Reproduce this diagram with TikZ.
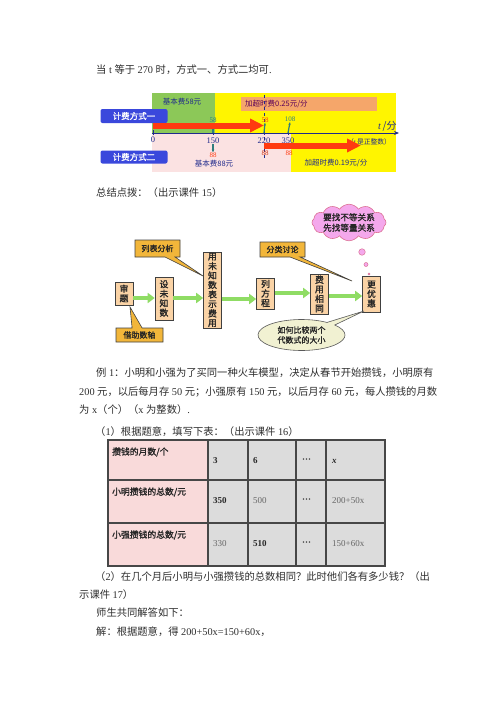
\documentclass[tikz,border=0pt]{standalone}
\usepackage{fontspec}
\setmainfont{Liberation Serif}
\newfontfamily\cjk{Noto Sans CJK SC}
\newfontfamily\cjkb[FakeBold=1.5]{Noto Sans CJK SC}
\usetikzlibrary{shapes.callouts,shapes.symbols,arrows.meta}
\newcommand\zh[1]{{\cjk #1}}
\newcommand\bodyfs{\fontsize{10.3pt}{12pt}\selectfont}
\definecolor{txt}{HTML}{2E2E2E}
\definecolor{ybg}{HTML}{FFF500}
\definecolor{gbg}{HTML}{8CC858}
\definecolor{pbg}{HTML}{FBE2E2}
\definecolor{obg}{HTML}{F5A66A}
\definecolor{lblue}{HTML}{3A48DC}
\definecolor{navy}{HTML}{1F2A8C}
\definecolor{redarr}{HTML}{FF3A10}
\definecolor{teal2}{HTML}{2E7D7D}
\definecolor{boxfill}{HTML}{FAD3A6}
\definecolor{callfill}{HTML}{F2B63A}
\definecolor{cloudfill}{HTML}{F4A8EC}
\definecolor{ellfill}{HTML}{F1F1D2}
\definecolor{garr}{HTML}{8FDC64}
\definecolor{tpink}{HTML}{F9DADA}
\definecolor{tgray}{HTML}{DCDCDC}
\tikzset{
  body/.style={anchor=west, inner sep=0pt, text=txt, font=\bodyfs},
  tl/.style={inner sep=0pt, font=\fontsize{7.5pt}{9pt}\selectfont},
  fbox/.style={draw=black!75, fill=boxfill, line width=0.6pt, inner sep=1pt, align=center,
    text=black!85, font=\cjkb\fontsize{8.8pt}{9.5pt}\selectfont, minimum width=18pt},
  callbox/.style={rectangle callout, draw=black!75, fill=callfill, line width=0.6pt,
    font=\cjkb\fontsize{8pt}{9.5pt}\selectfont, text=black!85, inner sep=1pt, callout pointer width=10pt},
  garrow/.style={draw=garr, line width=4pt, -{Triangle[length=7pt,width=10pt]}},
  redarrow/.style={draw=redarr, line width=6pt, -{Triangle[length=14pt,width=13pt]}},
  smarr/.style={draw=teal2, line width=1.2pt, -{Stealth[length=3pt]}},
  tcell/.style={anchor=west, inner sep=0pt, font=\fontsize{9pt}{11pt}\selectfont},
}
\begin{document}
\begin{tikzpicture}[x=1pt,y=-1pt]
\useasboundingbox[fill=white] (0,0) rectangle (500,707);

% ---------- line 1
\node[body] (l1) at (96,70) {\zh{当} t \zh{等于} 270 \zh{时，方式一、方式二均可}.};

% ---------- timeline figure
\fill[ybg] (152,93) rectangle (396,172);
\fill[gbg] (152,93) rectangle (215,133);
\fill[pbg] (152,134) rectangle (291,172);
\fill[obg] (241,97) rectangle (377,111);
\node[tl, text=navy] (b58) at (182,102) {\cjk 基本费58元};
\node[tl, text=violet!70!black, anchor=west] (o25) at (245,104.5) {\cjk 加超时费0.25元/分};
\node[tl, text=navy] (b88) at (214,163.5) {\cjk 基本费88元};
\node[tl, text=navy] (o19) at (336,163.5) {\cjk 加超时费0.19元/分};
\node[fill=lblue, rounded corners=2pt, minimum width=67pt, minimum height=14pt, inner sep=0pt,
  text=white, font=\cjkb\fontsize{8.5pt}{10pt}\selectfont] (m1) at (134,116) {计费方式一};
\node[fill=lblue, rounded corners=2pt, minimum width=67pt, minimum height=13pt, inner sep=0pt,
  text=white, font=\cjkb\fontsize{8.5pt}{10pt}\selectfont] (m2) at (134,157) {计费方式二};

\draw[navy, dashed, line width=1pt] (264,95) -- (264,158);
\draw[navy, line width=1pt, -{Stealth[length=5pt,width=4pt]}] (152,133) -- (399,133);
\foreach \xx in {153,213,264,288} \draw[navy, line width=1pt] (\xx,130) -- (\xx,135);
\node[tl, text=navy, font=\fontsize{8.5pt}{10pt}\selectfont] (t0) at (153,139.5) {0};
\node[tl, text=navy, font=\fontsize{8.5pt}{10pt}\selectfont] (t150) at (213,141) {150};
\node[tl, text=navy, font=\fontsize{8.5pt}{10pt}\selectfont] (t220) at (264,141) {220};
\node[tl, text=navy, font=\fontsize{8.5pt}{10pt}\selectfont] (t350) at (288,141) {350};
\node[tl, text=teal2, font=\fontsize{7pt}{8pt}\selectfont] (u58) at (213,120) {58};
\node[tl, text=redarr, font=\fontsize{7pt}{8pt}\selectfont] (v58) at (265,120) {58};
\node[tl, text=teal2, font=\fontsize{7pt}{8pt}\selectfont] (u108) at (290,119.5) {108};
\node[tl, text=redarr, font=\fontsize{7pt}{8pt}\selectfont] (d88a) at (213,155) {88};
\node[tl, text=redarr!80!black, font=\fontsize{7pt}{8pt}\selectfont] (d88b) at (265,153) {88};
\node[tl, text=redarr, font=\fontsize{7pt}{8pt}\selectfont] (d88c) at (289,153) {88};
\draw[teal2, line width=1.2pt] (213,124) -- (213,133);
\draw[smarr] (t150.south) -- (d88a.north);
\draw[smarr] (288,133) -- (u108.south);
\draw[smarr] (264,133) -- (v58.south);
\node[tl, text=navy, anchor=west] (tlab) at (378,126.5) {\fontsize{10pt}{11pt}\selectfont\itshape t\,\upshape\zh{/分}};
\node[tl, text=navy, anchor=west, font=\fontsize{6.8pt}{8pt}\selectfont] (tint) at (347,141.5) {\zh{（}t\,\zh{是正整数）}};
\draw[redarrow] (153,125.5) -- (264,125.5);
\draw[redarrow] (264,145.5) -- (361,145.5);

% ---------- line 2
\node[body] (l2) at (96,193) {\zh{总结点拨：（出示课件} 15\zh{）}};

% ---------- flowchart
\node[fbox, minimum height=23pt] (shen) at (124,293.5) {审\\题};
\node[fbox, minimum height=43pt] (she) at (164,298.5) {设\\未\\知\\数};
\node[fbox, minimum height=76pt] (yong) at (212.5,290) {用\\未\\知\\数\\表\\示\\费\\用};
\node[fbox, minimum height=31pt] (lie) at (265.5,293.5) {列\\方\\程};
\node[fbox, minimum height=40pt] (fei) at (319.5,294) {费\\用\\相\\同};
\node[fbox, minimum height=36pt] (geng) at (371.5,294) {更\\优\\惠};

\draw[garrow] (shen.east|-0,298) -- (she.west|-0,298);
\draw[garrow] (she.east|-0,298) -- (yong.west|-0,298);
\draw[garrow] (yong.east|-0,299) -- (lie.west|-0,299);
\draw[garrow] (lie.east|-0,293) -- (fei.west|-0,293);
\draw[garrow] (fei.east|-0,296) -- (geng.west|-0,296);

\node[callbox, minimum width=45pt, minimum height=17pt, callout absolute pointer={(203,276)}] (lb) at (157.5,248.5) {列表分析};
\node[callbox, minimum width=45pt, minimum height=15pt, callout absolute pointer={(352,281)}] (fl) at (282.5,249.5) {分类讨论};
\node[callbox, minimum width=47pt, minimum height=14pt, callout absolute pointer={(130,307)}] (jz) at (139.5,335) {借助数轴};
\node[ellipse callout, draw=black!65, fill=ellfill, line width=0.6pt, minimum width=87pt, minimum height=31pt,
  inner sep=0pt, align=center, font=\cjkb\fontsize{8pt}{10pt}\selectfont, text=black!85,
  callout absolute pointer={(364,311)}, callout pointer arc=14] (ell) at (301.5,335) {如何比较两个\\代数式的大小};
\node[cloud, cloud puffs=12, cloud puff arc=110, aspect=2.5, draw=purple!55, fill=cloudfill, line width=0.6pt,
  inner sep=-1pt, minimum width=74pt, minimum height=31pt, align=center,
  font=\cjkb\fontsize{8.6pt}{10.5pt}\selectfont, text=black!85] (cl) at (349,222.5) {要找不等关系\\先找等量关系};
\node[circle, draw=purple!55, fill=cloudfill, line width=0.5pt, minimum size=6.5pt, inner sep=0pt] (c1) at (362,252) {};
\node[circle, draw=purple!55, fill=cloudfill, line width=0.5pt, minimum size=4pt, inner sep=0pt] (c2) at (366,264.5) {};
\node[circle, draw=purple!55, fill=cloudfill, line width=0.4pt, minimum size=2pt, inner sep=0pt] (c3) at (369,274) {};

% ---------- example text
\node[body] (l3) at (96,373) {\zh{例} 1\zh{：小明和小强为了买同一种火车模型，决定从春节开始攒钱，小明原有}};
\node[body] (l4) at (79,392) {200 \zh{元，以后每月存} 50 \zh{元；小强原有} 150 \zh{元，以后月存} 60 \zh{元，每人攒钱的月数}};
\node[body] (l5) at (79,410) {\zh{为} x\zh{（个）（}x \zh{为整数）}.};
\node[body] (l6) at (95,432) {\zh{（}1\zh{）根据题意，填写下表：（出示课件} 16\zh{）}};

% ---------- table
\fill[tpink] (108,440) rectangle (208,566);
\fill[tgray] (208,440) rectangle (385,566);
\draw[black!72, line width=1.5pt] (108,440) rectangle (385,566);
\foreach \yy in {480,523} \draw[black!72, line width=1.5pt] (108,\yy) -- (385,\yy);
\foreach \xx in {208,248,296,326} \draw[black!72, line width=1.5pt] (\xx,440) -- (\xx,566);
\node[tcell, font=\cjkb\fontsize{8.8pt}{10pt}\selectfont, text=black!85] (r1) at (112,452) {攒钱的月数/个};
\node[tcell, font=\cjkb\fontsize{8.8pt}{10pt}\selectfont, text=black!85] (r2) at (112,492) {小明攒钱的总数/元};
\node[tcell, font=\cjkb\fontsize{8.8pt}{10pt}\selectfont, text=black!85] (r3) at (112,535) {小强攒钱的总数/元};
\node[tcell, text=black!85] (c13) at (213,461) {\textbf{3}};
\node[tcell, text=black!85] (c16) at (253,461) {\textbf{6}};
\node[tcell, text=black!85] (c1d) at (302,461) {\textbf{···}};
\node[tcell, text=black!85] (c1x) at (332,461) {\textbf{\itshape x}};
\node[tcell, text=black!85] (c23) at (213,501) {\textbf{350}};
\node[tcell, text=black!60] (c26) at (253,501) {500};
\node[tcell, text=black!85] (c2d) at (302,501) {\textbf{···}};
\node[tcell, text=black!60] (c2x) at (332,501) {200+50x};
\node[tcell, text=black!60] (c33) at (213,544) {330};
\node[tcell, text=black!85] (c36) at (253,544) {\textbf{510}};
\node[tcell, text=black!85] (c3d) at (302,544) {\textbf{···}};
\node[tcell, text=black!60] (c3x) at (332,544) {150+60x};

% ---------- closing text
\node[body] (l7) at (95,577) {\zh{（}2\zh{）在几个月后小明与小强攒钱的总数相同？此时他们各有多少钱？（出}};
\node[body] (l8) at (79,595) {\zh{示课件} 17\zh{）}};
\node[body] (l9) at (96,613) {\zh{师生共同解答如下：}};
\node[body] (l10) at (96,632) {\zh{解：根据题意，得} 200+50x=150+60x\zh{，}};
\end{tikzpicture}
\end{document}
